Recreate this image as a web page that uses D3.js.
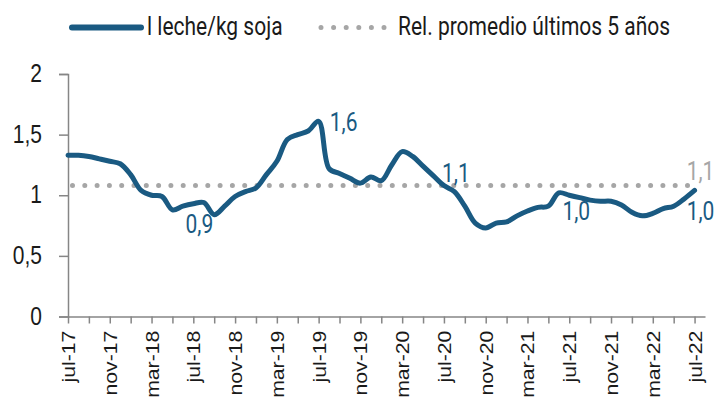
<!DOCTYPE html>
<html>
<head>
<meta charset="utf-8">
<script src="https://cdn.jsdelivr.net/npm/d3@7"></script>
<style>
  body { margin: 0; background: #fff; }
  svg { display: block; font-family: Roboto, "Noto Sans", sans-serif; }
</style>
</head>
<body>
<svg id="chart" width="717" height="404"></svg>
<script>
// monthly categories, jul-17 .. jul-22
var months = ("jul-17 ago-17 sep-17 oct-17 nov-17 dic-17 ene-18 feb-18 mar-18 abr-18 may-18 jun-18 " +
  "jul-18 ago-18 sep-18 oct-18 nov-18 dic-18 ene-19 feb-19 mar-19 abr-19 may-19 jun-19 " +
  "jul-19 ago-19 sep-19 oct-19 nov-19 dic-19 ene-20 feb-20 mar-20 abr-20 may-20 jun-20 " +
  "jul-20 ago-20 sep-20 oct-20 nov-20 dic-20 ene-21 feb-21 mar-21 abr-21 may-21 jun-21 " +
  "jul-21 ago-21 sep-21 oct-21 nov-21 dic-21 ene-22 feb-22 mar-22 abr-22 may-22 jun-22 jul-22").split(" ");

// l leche / kg soja
var lecheSoja = [1.33, 1.33, 1.32, 1.30, 1.28, 1.26, 1.17, 1.04, 1.00, 0.99, 0.88, 0.91,
  0.93, 0.94, 0.84, 0.91, 0.99, 1.03, 1.06, 1.17, 1.28, 1.46, 1.50, 1.53,
  1.61, 1.22, 1.18, 1.14, 1.10, 1.15, 1.12, 1.25, 1.36, 1.32, 1.24, 1.16,
  1.08, 1.03, 0.91, 0.77, 0.73, 0.77, 0.78, 0.83, 0.87, 0.90, 0.91, 1.02,
  1.00, 0.98, 0.96, 0.95, 0.95, 0.92, 0.86, 0.83, 0.85, 0.89, 0.91, 0.97,
  1.04];

// relación promedio últimos 5 años
var promedio5 = 1.08;

var yTicks = [0, 0.5, 1, 1.5, 2];
var xTickLabels = ["jul-17", "nov-17", "mar-18", "jul-18", "nov-18", "mar-19", "jul-19", "nov-19",
  "mar-20", "jul-20", "nov-20", "mar-21", "jul-21", "nov-21", "mar-22", "jul-22"];

// data labels on the line
var labelMonths = ["jul-18", "jul-19", "jul-20", "jul-21", "jul-22"];
var labelTexts = ["0,9", "1,6", "1,1", "1,0", "1,0"];
var promLabel = "1,1";

var legendNames = ["l leche/kg soja", "Rel. promedio últimos 5 años"];

var BLUE = "#1a5a82", GREY = "#a6a6a6", AXIS = "#868686", TXT = "#1a1a1a";

var svg = d3.select("#chart");

var x = d3.scaleLinear().domain([0, 61]).range([68, 705]);
var y = d3.scaleLinear().domain([0, 2]).range([316.5, 74]);
var fmt = function(d) { return String(d).replace(".", ","); };

// y axis
var yAxis = svg.append("g")
    .attr("transform", "translate(68,0)")
    .call(d3.axisLeft(y).tickValues(yTicks).tickSize(9).tickPadding(17).tickFormat(fmt));
yAxis.select(".domain").attr("stroke", AXIS).attr("stroke-width", 1.5);
yAxis.selectAll(".tick line").attr("stroke", AXIS).attr("stroke-width", 1.5);
yAxis.selectAll(".tick text")
    .attr("fill", TXT)
    .style("font-size", "21px")
    .attr("transform", "scale(1,1.2)")
    .attr("dy", "0.3em");

// x axis: ticks every 2 months, labels every 4
var tickIdx = d3.range(0, months.length, 2);
var xAxis = svg.append("g")
    .attr("transform", "translate(0,316.5)")
    .call(d3.axisBottom(x).tickValues(tickIdx).tickSize(7).tickSizeOuter(0)
      .tickFormat(function(i) { return xTickLabels.indexOf(months[i]) >= 0 ? months[i] : ""; }));
xAxis.select(".domain").attr("stroke", AXIS).attr("stroke-width", 1.5);
xAxis.selectAll(".tick line").attr("stroke", AXIS).attr("stroke-width", 1.5);
xAxis.selectAll(".tick text")
    .attr("fill", TXT)
    .style("font-size", "18px")
    .attr("text-anchor", "end")
    .attr("x", -12)
    .attr("y", 0)
    .attr("dy", "0.36em")
    .attr("transform", "rotate(-90) scale(1.18,1)");
svg.selectAll(".domain").attr("fill", "none");

// reference dotted line
svg.append("line")
    .attr("x1", x(0)).attr("x2", x(months.length - 1))
    .attr("y1", y(promedio5)).attr("y2", y(promedio5))
    .attr("stroke", GREY).attr("stroke-width", 5)
    .attr("stroke-linecap", "round")
    .attr("stroke-dasharray", "0 12.3")
    .attr("stroke-dashoffset", -4.5);

// main line
var line = d3.line()
    .x(function(d, i) { return x(i); })
    .y(function(d) { return y(d); })
    .curve(d3.curveCatmullRom.alpha(0.5));

svg.append("path")
    .datum(lecheSoja)
    .attr("d", line)
    .attr("fill", "none")
    .attr("stroke", BLUE)
    .attr("stroke-width", 5)
    .attr("stroke-linejoin", "round")
    .attr("stroke-linecap", "round");

// data labels (offsets from the point, label centre)
var labelOffsets = [[6, 20], [25, 1], [12, -13], [7, 16], [6, 21]];
function addLabel(cx, cy, txt, color) {
  svg.append("g")
      .attr("transform", "translate(" + cx + "," + cy + ")")
    .append("text")
      .attr("text-anchor", "middle")
      .attr("dy", "0.36em")
      .attr("transform", "scale(1,1.2)")
      .attr("fill", color)
      .style("font-size", "21px")
      .text(txt);
}
labelMonths.forEach(function(m, k) {
  var i = months.indexOf(m);
  addLabel(x(i) + labelOffsets[k][0], y(lecheSoja[i]) + labelOffsets[k][1], labelTexts[k], BLUE);
});
addLabel(x(months.length - 1) + 6, y(promedio5) - 14.5, promLabel, GREY);

// legend
var leg = svg.append("g");
leg.append("line")
    .attr("x1", 72).attr("x2", 141).attr("y1", 27.5).attr("y2", 27.5)
    .attr("stroke", BLUE).attr("stroke-width", 6).attr("stroke-linecap", "round");
leg.append("line")
    .attr("x1", 321).attr("x2", 385).attr("y1", 27.5).attr("y2", 27.5)
    .attr("stroke", GREY).attr("stroke-width", 5).attr("stroke-linecap", "round")
    .attr("stroke-dasharray", "0 12.6");
[[147, legendNames[0]], [398, legendNames[1]]].forEach(function(p) {
  leg.append("g")
      .attr("transform", "translate(" + p[0] + ",35)")
    .append("text")
      .attr("transform", "scale(1,1.2)")
      .attr("fill", TXT)
      .style("font-size", "21px")
      .text(p[1]);
});
</script>
</body>
</html>
